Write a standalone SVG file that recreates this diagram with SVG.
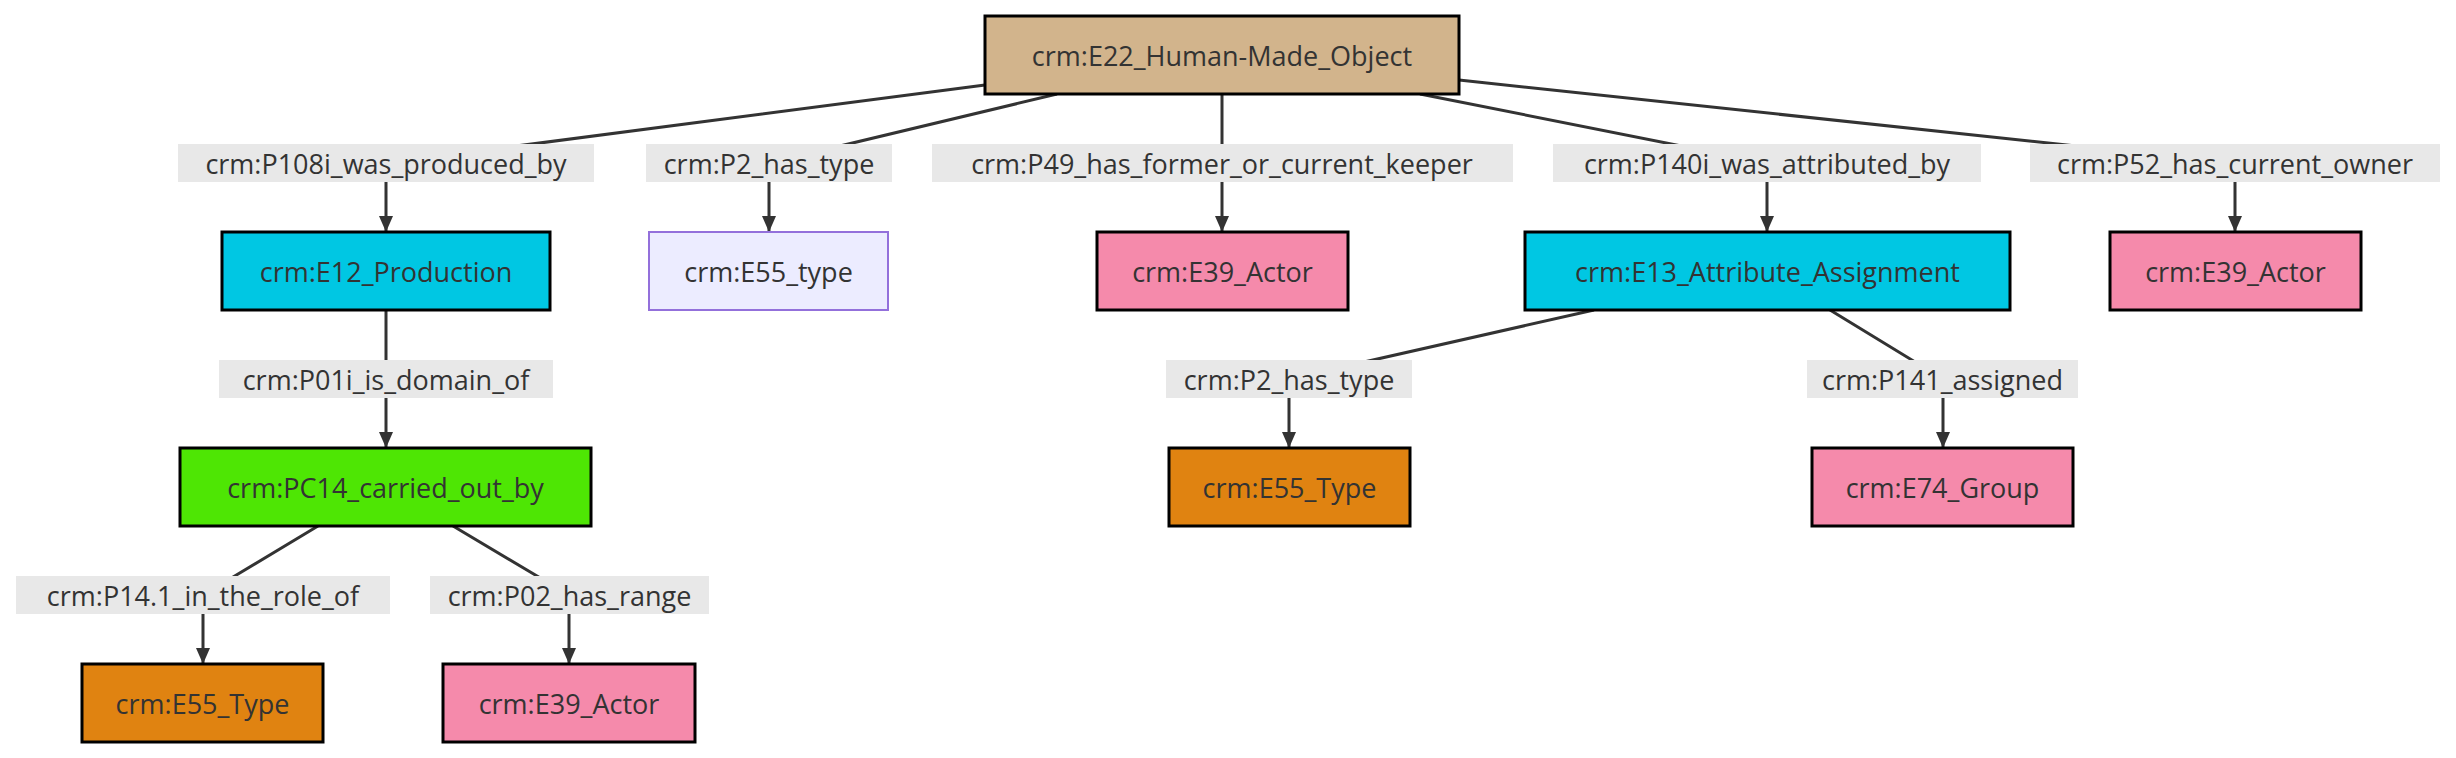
<svg xmlns="http://www.w3.org/2000/svg" width="2456" height="758" viewBox="0 0 2456 758">
<defs>
<marker id="arr" markerUnits="userSpaceOnUse" markerWidth="16" markerHeight="14" refX="16" refY="7" orient="auto">
<path d="M0,0 L16,7 L0,14 z" fill="#333"/>
</marker>
<style>
.n rect{stroke:#000;stroke-width:3}
.n text,.l text{font-family:"Open Sans","DejaVu Sans",sans-serif;font-size:27px;fill:#333;text-anchor:middle;dominant-baseline:central}
.l rect{fill:#e8e8e8}
.e path{fill:none;stroke:#333;stroke-width:3;marker-end:url(#arr)}
.tan{fill:#d2b48c}.cyan{fill:#00c7e3}.lav{fill:#ececff;stroke:#9370db!important;stroke-width:2!important}
.pink{fill:#f58aab}.green{fill:#4ee604}.orange{fill:#e08311}
</style>
</defs>
<rect width="2456" height="758" fill="#fff"/>
<g id="edges" class="e">
<path d="M985,85 L386,163 L386,232"/>
<path d="M1057,94 L769,163 L769,232"/>
<path d="M1222,94 L1222,232"/>
<path d="M1420,94 L1767,163 L1767,232"/>
<path d="M1459,80 L2235,163 L2235,232"/>
<path d="M386,310 L386,448"/>
<path d="M1594,310 L1289,379 L1289,448"/>
<path d="M1830,310 L1943,379 L1943,448"/>
<path d="M318,526 L203,595 L203,664"/>
<path d="M453,526 L569,595 L569,664"/>
</g>
<g id="edge-labels" class="l">
<g id="lbl-p108i"><rect x="178" y="144" width="416" height="38"/><text x="386" y="163">crm:P108i_was_produced_by</text></g>
<g id="lbl-p2a"><rect x="646" y="144" width="246" height="38"/><text x="769" y="163">crm:P2_has_type</text></g>
<g id="lbl-p49"><rect x="932" y="144" width="581" height="38"/><text x="1222" y="163">crm:P49_has_former_or_current_keeper</text></g>
<g id="lbl-p140i"><rect x="1553" y="144" width="428" height="38"/><text x="1767" y="163">crm:P140i_was_attributed_by</text></g>
<g id="lbl-p52"><rect x="2030" y="144" width="410" height="38"/><text x="2235" y="163">crm:P52_has_current_owner</text></g>
<g id="lbl-p01i"><rect x="219" y="360" width="334" height="38"/><text x="386" y="379">crm:P01i_is_domain_of</text></g>
<g id="lbl-p2b"><rect x="1166" y="360" width="246" height="38"/><text x="1289" y="379">crm:P2_has_type</text></g>
<g id="lbl-p141"><rect x="1807" y="360" width="271" height="38"/><text x="1942.5" y="379">crm:P141_assigned</text></g>
<g id="lbl-p141r"><rect x="16" y="576" width="374" height="38"/><text x="203" y="595">crm:P14.1_in_the_role_of</text></g>
<g id="lbl-p02"><rect x="430" y="576" width="279" height="38"/><text x="569.5" y="595">crm:P02_has_range</text></g>
</g>
<g id="n-e22" class="n"><rect class="tan" x="985" y="16" width="474" height="78"/><text x="1222" y="55">crm:E22_Human-Made_Object</text></g>
<g id="n-e12" class="n"><rect class="cyan" x="222" y="232" width="328" height="78"/><text x="386" y="271">crm:E12_Production</text></g>
<g id="n-e55a" class="n"><rect class="lav" x="649" y="232" width="239" height="78"/><text x="768.5" y="271">crm:E55_type</text></g>
<g id="n-e39a" class="n"><rect class="pink" x="1097" y="232" width="251" height="78"/><text x="1222.5" y="271">crm:E39_Actor</text></g>
<g id="n-e13" class="n"><rect class="cyan" x="1525" y="232" width="485" height="78"/><text x="1767.5" y="271">crm:E13_Attribute_Assignment</text></g>
<g id="n-e39b" class="n"><rect class="pink" x="2110" y="232" width="251" height="78"/><text x="2235.5" y="271">crm:E39_Actor</text></g>
<g id="n-pc14" class="n"><rect class="green" x="180" y="448" width="411" height="78"/><text x="385.5" y="487">crm:PC14_carried_out_by</text></g>
<g id="n-e55c" class="n"><rect class="orange" x="1169" y="448" width="241" height="78"/><text x="1289.5" y="487">crm:E55_Type</text></g>
<g id="n-e74" class="n"><rect class="pink" x="1812" y="448" width="261" height="78"/><text x="1942.5" y="487">crm:E74_Group</text></g>
<g id="n-e55d" class="n"><rect class="orange" x="82" y="664" width="241" height="78"/><text x="202.5" y="703">crm:E55_Type</text></g>
<g id="n-e39e" class="n"><rect class="pink" x="443" y="664" width="252" height="78"/><text x="569" y="703">crm:E39_Actor</text></g>
</svg>
